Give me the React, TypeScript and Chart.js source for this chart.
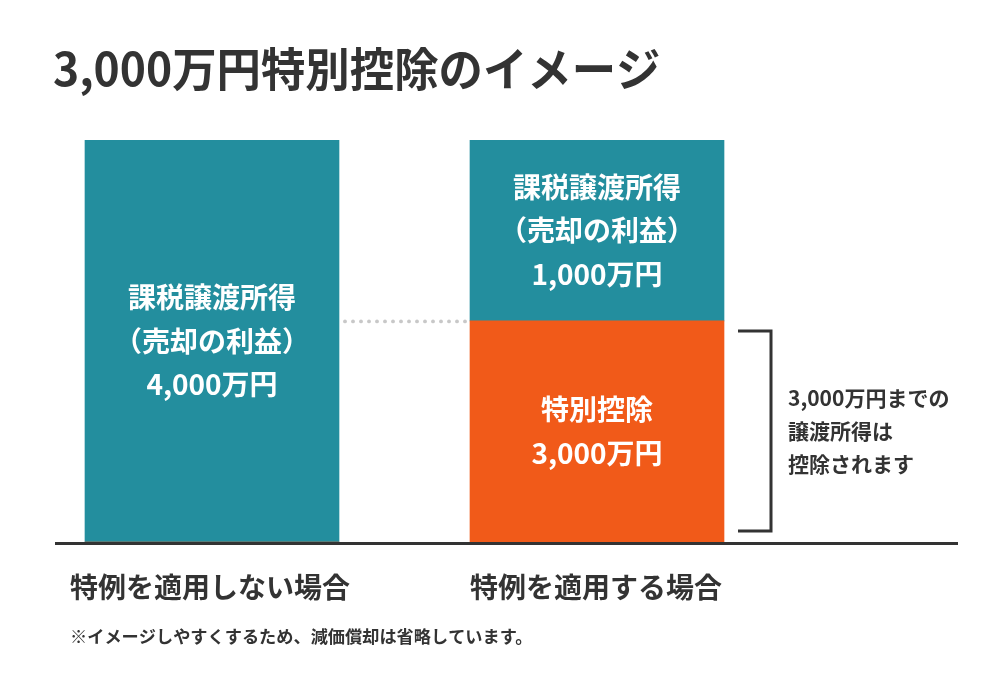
import React, { useEffect, useRef } from "react";
import { Chart, registerables } from "chart.js";

Chart.register(...registerables);

const titleText = "3,000万円特別控除のイメージ";
const categories = ["特例を適用しない場合", "特例を適用する場合"];
// values follow the drawn bar heights (the picture is not to scale)
const deductionValues = [0, 2200];
const taxableValues = [4000, 1800];
const taxableLabels = [
  ["課税譲渡所得", "（売却の利益）", "4,000万円"],
  ["課税譲渡所得", "（売却の利益）", "1,000万円"],
];
const deductionLabels = ["特別控除", "3,000万円"];
const bracketNote = ["3,000万円までの", "譲渡所得は", "控除されます"];
const footnote = "※イメージしやすくするため、減価償却は省略しています。";

const TEAL = "#238e9e";
const ORANGE = "#f15a19";
const DARK = "#333333";
const FONT = '"Noto Sans CJK JP", "Noto Sans", sans-serif';

const overlay = {
  id: "overlay",
  afterDraw(chart: any) {
    const ctx = chart.ctx;
    const y = chart.scales.y;
    const orangeMeta = chart.getDatasetMeta(0);
    const tealMeta = chart.getDatasetMeta(1);
    const y0 = y.getPixelForValue(0);
    ctx.save();

    // title (slightly condensed like the reference face)
    ctx.fillStyle = DARK;
    ctx.textAlign = "left";
    ctx.textBaseline = "alphabetic";
    ctx.font = `bold 46px ${FONT}`;
    ctx.save();
    ctx.translate(53, 86);
    ctx.scale(0.965, 1);
    ctx.fillText(titleText, 0, 0);
    ctx.restore();

    // baseline
    ctx.strokeStyle = DARK;
    ctx.lineWidth = 3;
    ctx.beginPath();
    ctx.moveTo(55, y0 + 1.5);
    ctx.lineTo(958, y0 + 1.5);
    ctx.stroke();

    // dotted connector at top of deduction
    const leftBar = tealMeta.data[0];
    const rightOrange = orangeMeta.data[1];
    const dy = rightOrange.y;
    ctx.fillStyle = "#c8c8c8";
    const x0 = leftBar.x + leftBar.width / 2 + 6;
    for (let i = 0; i < 16; i++) {
      ctx.beginPath();
      ctx.arc(x0 + i * 8, dy + 0.5, 1.9, 0, Math.PI * 2);
      ctx.fill();
    }

    // bar texts
    ctx.fillStyle = "#ffffff";
    ctx.textAlign = "center";
    ctx.textBaseline = "middle";
    ctx.font = `bold 28px ${FONT}`;
    tealMeta.data.forEach((bar: any, i: number) => {
      const mid = (bar.y + bar.base) / 2;
      const lines = taxableLabels[i];
      lines.forEach((t, k) => {
        ctx.fillText(t, bar.x, mid + (k - (lines.length - 1) / 2) * 43.5);
      });
    });
    const ob = orangeMeta.data[1];
    const omid = (ob.y + ob.base) / 2;
    deductionLabels.forEach((t, k) => {
      ctx.fillText(t, ob.x, omid + (k - (deductionLabels.length - 1) / 2) * 44);
    });

    // bracket
    const bx = ob.x + ob.width / 2 + 14;
    ctx.strokeStyle = DARK;
    ctx.lineWidth = 3;
    ctx.lineJoin = "miter";
    ctx.beginPath();
    ctx.moveTo(bx, ob.y + 10);
    ctx.lineTo(bx + 33, ob.y + 10);
    ctx.lineTo(bx + 33, ob.base - 11);
    ctx.lineTo(bx, ob.base - 11);
    ctx.stroke();

    ctx.fillStyle = DARK;
    ctx.textAlign = "left";
    ctx.font = `bold 21px ${FONT}`;
    bracketNote.forEach((t, k) => {
      ctx.fillText(t, 788, omid + (k - 1) * 33);
    });

    // category labels
    ctx.font = `bold 28px ${FONT}`;
    ctx.textBaseline = "alphabetic";
    ctx.fillText(categories[0], 70, 598);
    ctx.fillText(categories[1], 470, 598);

    // footnote
    ctx.font = `bold 17.2px ${FONT}`;
    ctx.fillText(footnote, 70, 643);

    ctx.restore();
  },
};

export default function App() {
  const ref = useRef<HTMLCanvasElement | null>(null);
  useEffect(() => {
    document.body.style.margin = "0";
    const chart = new Chart(ref.current!, {
      type: "bar",
      data: {
        labels: categories,
        datasets: [
          { label: "特別控除", data: deductionValues, backgroundColor: ORANGE, borderWidth: 0, barThickness: 254, stack: "s" },
          { label: "課税譲渡所得", data: taxableValues, backgroundColor: TEAL, borderWidth: 0, barThickness: 254, stack: "s" },
        ],
      },
      options: {
        responsive: false,
        animation: false,
        events: [],
        layout: { padding: { top: 140, bottom: 133, left: 19.5, right: 210.5 } },
        plugins: { legend: { display: false }, tooltip: { enabled: false } },
        scales: {
          x: { display: false, stacked: true, offset: true },
          y: { display: false, stacked: true, min: 0, max: 4000 },
        },
      },
      plugins: [overlay],
    });
    return () => chart.destroy();
  }, []);
  return (
    <div style={{ position: "absolute", left: 0, top: 0, width: 1000, height: 675, background: "#fff" }}>
      <canvas ref={ref} width={1000} height={675} />
    </div>
  );
}
